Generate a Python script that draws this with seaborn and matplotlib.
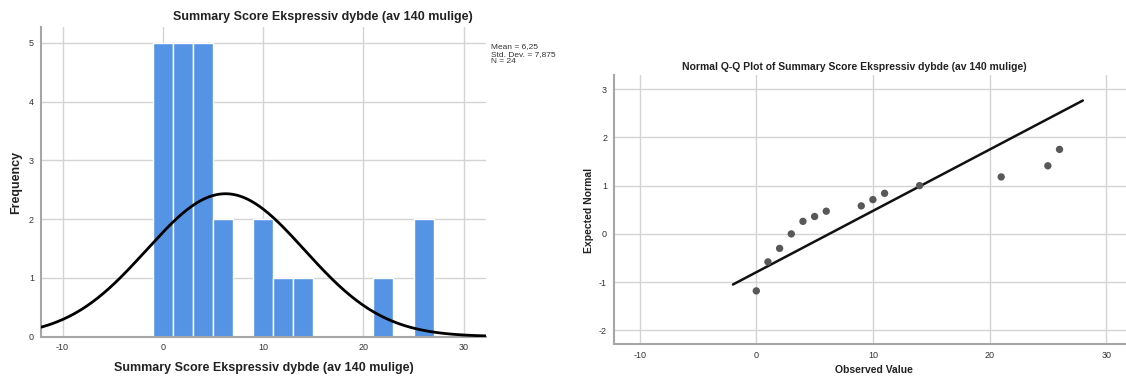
import numpy as np
import pandas as pd
import matplotlib
matplotlib.use("Agg")
import matplotlib.pyplot as plt
import seaborn as sns

# Scores and how often each occurs (N = 24)
scores = [0, 1, 2, 3, 4, 5, 6, 9, 10, 11, 14, 21, 25, 26]
counts = [5, 3, 2, 4, 1, 1, 1, 1, 1, 1, 1, 1, 1, 1]
# Expected normal values
expected_normal = [-1.18, -0.58, -0.30, 0.00, 0.26, 0.36, 0.47,
                   0.58, 0.71, 0.84, 1.00, 1.18, 1.41, 1.75]

mean_val = 6.25
sd_val = 7.875
n_val = 24
bin_width = 2
bin_edges = list(range(-1, 29, bin_width))

hist_title = "Summary Score Ekspressiv dybde (av 140 mulige)"
qq_title = "Normal Q-Q Plot of Summary Score Ekspressiv dybde (av 140 mulige)"
stats_text = "Mean = 6,25\nStd. Dev. = 7,875\nN = 24"

sns.set_style("white")
plt.rcParams['font.family'] = ['Liberation Sans', 'DejaVu Sans']
plt.rcParams['axes.unicode_minus'] = False

df = pd.DataFrame({"score": scores, "count": counts, "expected": expected_normal})

fig = plt.figure(figsize=(11.26, 3.76), dpi=100)
ax1 = fig.add_axes([0.0364, 0.105, 0.395, 0.823])
ax2 = fig.add_axes([0.5453, 0.0851, 0.4547, 0.7154])

bar_color = "#5594E5"
grid_color = "#d4d4d4"
spine_color = "#a6a6a6"

# --- Histogram with normal curve ---
sns.histplot(data=df, x="score", weights="count", bins=bin_edges, ax=ax1,
             color=bar_color, edgecolor="white", linewidth=1, alpha=1, zorder=2)
xs = np.linspace(-12.2, 32.3, 300)
curve = n_val * bin_width * np.exp(-0.5 * ((xs - mean_val) / sd_val) ** 2) / (sd_val * np.sqrt(2 * np.pi))
sns.lineplot(x=xs, y=curve, ax=ax1, color="black", linewidth=2, zorder=3)
ax1.set_xlim(-12.15, 32.2)
ax1.set_ylim(0, 5.27)
ax1.set_xticks([-10, 0, 10, 20, 30])
ax1.set_yticks([0, 1, 2, 3, 4, 5])
ax1.set_xlabel("")
ax1.set_ylabel("")

# --- Normal Q-Q plot ---
sns.scatterplot(data=df, x="score", y="expected", ax=ax2, color="#585858",
                s=28, edgecolor="none", zorder=3)
line_x = np.array([-2, 28])
sns.lineplot(x=line_x, y=(line_x - mean_val) / sd_val, ax=ax2, color="#111111",
             linewidth=1.8, zorder=2)
ax2.set_xlim(-12.2, 31.7)
ax2.set_ylim(-2.28, 3.29)
ax2.set_xticks([-10, 0, 10, 20, 30])
ax2.set_yticks([-2, -1, 0, 1, 2, 3])
ax2.set_xlabel("")
ax2.set_ylabel("")

for ax in (ax1, ax2):
    ax.set_axisbelow(True)
    ax.grid(True, color=grid_color, linewidth=1)
    for side in ("top", "right"):
        ax.spines[side].set_visible(False)
    for side in ("left", "bottom"):
        ax.spines[side].set_color(spine_color)
        ax.spines[side].set_linewidth(1.5)
    ax.tick_params(length=0, labelsize=6.5, colors="#333333", pad=5)

# Titles and labels placed like the SPSS output
fig.text(0.287, 0.955, hist_title, ha="center", va="center", fontsize=9, fontweight="bold", color="#222222")
fig.text(0.2345, 0.021, hist_title, ha="center", va="center", fontsize=9, fontweight="bold", color="#222222")
fig.text(0.0142, 0.516, "Frequency", ha="center", va="center", rotation=90, fontsize=9, fontweight="bold", color="#222222")
fig.text(0.436, 0.885, stats_text, ha="left", va="top", fontsize=6, color="#333333", linespacing=1.1)

fig.text(0.759, 0.822, qq_title, ha="center", va="center", fontsize=7.5, fontweight="bold", color="#222222")
fig.text(0.776, 0.016, "Observed Value", ha="center", va="center", fontsize=7.5, fontweight="bold", color="#222222")
fig.text(0.523, 0.441, "Expected Normal", ha="center", va="center", rotation=90, fontsize=7.5, fontweight="bold", color="#222222")

fig.savefig("out.png", dpi=100)
